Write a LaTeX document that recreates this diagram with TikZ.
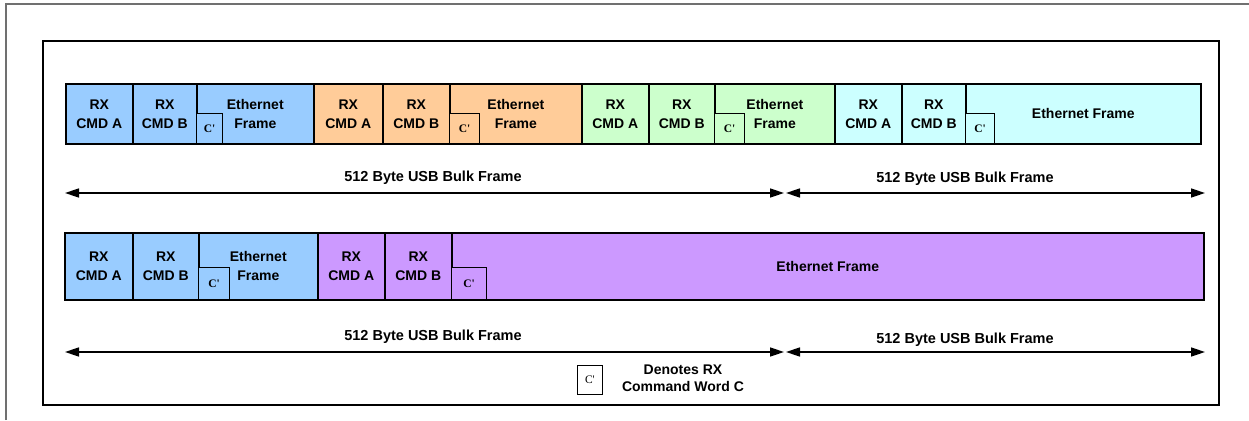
\documentclass[tikz,border=0pt]{standalone}
\usepackage{fontspec}
\setmainfont{Liberation Sans}
\newfontfamily\cwserif{Liberation Serif}
\usepackage{tikz}
\usetikzlibrary{arrows.meta}

\definecolor{blueA}{HTML}{99CCFF}
\definecolor{orangeA}{HTML}{FFCC99}
\definecolor{greenA}{HTML}{CCFFCC}
\definecolor{cyanA}{HTML}{CCFFFF}
\definecolor{purpleA}{HTML}{CC99FF}
\definecolor{frameA}{HTML}{707070}

\tikzset{
	cell/.style={draw=black, line width=1.6pt, anchor=north west, inner sep=0pt, align=center, font=\fontsize{14}{19}\selectfont\bfseries},
	cword/.style={draw=black, line width=1pt, anchor=north west, inner sep=0pt, font=\fontsize{11.5}{12}\selectfont\cwserif\bfseries},
	span/.style={line width=1.6pt, {Triangle[length=14pt,width=9pt]}-{Triangle[length=14pt,width=9pt]}},
	spanlabel/.style={font=\fontsize{14.5}{16}\selectfont\bfseries},
}

\begin{document}
\begin{tikzpicture}[x=1pt,y=-1pt]
	
	\useasboundingbox (0,0) rectangle (1249,420);
	\draw[frameA, line width=2.2pt] (6,420) -- (6,4) -- (1249,4);
	\draw[black, line width=1.4pt] (43,41) rectangle (1219,405);
	
	\node[cell, fill=blueA, minimum width=67pt, minimum height=60pt] (b1a) at (65,83) {RX\\CMD A};
	\node[cell, fill=blueA, minimum width=64pt, minimum height=60pt] (b1b) at (132,83) {RX\\CMD B};
	\node[cell, fill=blueA, minimum width=117pt, minimum height=60pt] (b1e) at (196,83) {Ethernet\\Frame};
	\node[cword, fill=blueA, minimum width=26pt, minimum height=30pt] (b1c) at (196,113) {C'};
	\node[cell, fill=orangeA, minimum width=69pt, minimum height=60pt] (o1a) at (313,83) {RX\\CMD A};
	\node[cell, fill=orangeA, minimum width=67pt, minimum height=60pt] (o1b) at (382,83) {RX\\CMD B};
	\node[cell, fill=orangeA, minimum width=132pt, minimum height=60pt] (o1e) at (449,83) {Ethernet\\Frame};
	\node[cword, fill=orangeA, minimum width=30pt, minimum height=30pt] (o1c) at (449,113) {C'};
	\node[cell, fill=greenA, minimum width=67pt, minimum height=60pt] (g1a) at (581,83) {RX\\CMD A};
	\node[cell, fill=greenA, minimum width=66pt, minimum height=60pt] (g1b) at (648,83) {RX\\CMD B};
	\node[cell, fill=greenA, minimum width=120pt, minimum height=60pt] (g1e) at (714,83) {Ethernet\\Frame};
	\node[cword, fill=greenA, minimum width=30pt, minimum height=30pt] (g1c) at (714,113) {C'};
	\node[cell, fill=cyanA, minimum width=67pt, minimum height=60pt] (c1a) at (834,83) {RX\\CMD A};
	\node[cell, fill=cyanA, minimum width=64pt, minimum height=60pt] (c1b) at (901,83) {RX\\CMD B};
	\node[cell, fill=cyanA, minimum width=235pt, minimum height=60pt] (c1e) at (965,83) {Ethernet Frame};
	\node[cword, fill=cyanA, minimum width=29pt, minimum height=30pt] (c1c) at (965,113) {C'};
	
	\coordinate (s1a) at (65,193);
	\coordinate (s1b) at (784,193);
	\coordinate (s1c) at (786,193);
	\coordinate (s1d) at (1205,193);
	\path[span] (s1a) edge (s1b);
	\path[span] (s1c) edge (s1d);
	\node[spanlabel] (u1a) at (433,178) {512 Byte USB Bulk Frame};
	\node[spanlabel] (u1b) at (965,179) {512 Byte USB Bulk Frame};
	
	\node[cell, fill=blueA, minimum width=68pt, minimum height=67pt] (b2a) at (64,232) {RX\\CMD A};
	\node[cell, fill=blueA, minimum width=66pt, minimum height=67pt] (b2b) at (132,232) {RX\\CMD B};
	\node[cell, fill=blueA, minimum width=119pt, minimum height=67pt] (b2e) at (198,232) {Ethernet\\Frame};
	\node[cword, fill=blueA, minimum width=31pt, minimum height=32pt] (b2c) at (198,267) {C'};
	\node[cell, fill=purpleA, minimum width=67pt, minimum height=67pt] (p2a) at (317,232) {RX\\CMD A};
	\node[cell, fill=purpleA, minimum width=67pt, minimum height=67pt] (p2b) at (384,232) {RX\\CMD B};
	\node[cell, fill=purpleA, minimum width=752pt, minimum height=67pt] (p2e) at (451,232) {Ethernet Frame};
	\node[cword, fill=purpleA, minimum width=35pt, minimum height=32pt] (p2c) at (451,267) {C'};
	
	\coordinate (s2a) at (65,352);
	\coordinate (s2b) at (784,352);
	\coordinate (s2c) at (786,352);
	\coordinate (s2d) at (1205,352);
	\path[span] (s2a) edge (s2b);
	\path[span] (s2c) edge (s2d);
	\node[spanlabel] (u2a) at (433,337) {512 Byte USB Bulk Frame};
	\node[spanlabel] (u2b) at (965,340) {512 Byte USB Bulk Frame};
	
	\node[cword, fill=white, line width=0.8pt, font=\fontsize{11.5}{12}\selectfont\cwserif, minimum width=25pt, minimum height=29pt] (key) at (577,365) {C'};
	\node[spanlabel, align=center, font=\fontsize{14}{17}\selectfont\bfseries] (keytext) at (683,378) {Denotes RX\\Command Word C};
	
\end{tikzpicture}
\end{document}
